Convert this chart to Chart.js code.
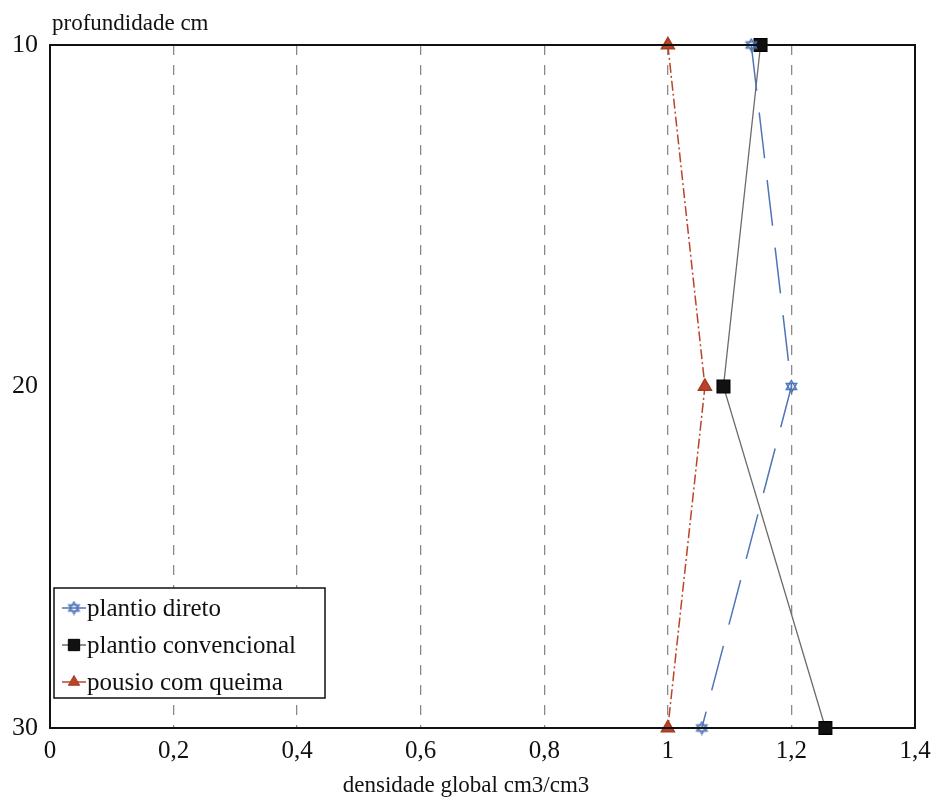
<!DOCTYPE html>
<html>
<head>
<meta charset="utf-8">
<script src="https://cdn.jsdelivr.net/npm/chart.js@4/dist/chart.umd.min.js"></script>
<style>
  html, body { margin: 0; padding: 0; background: #fff; }
  #box { width: 932px; height: 798px; }
</style>
</head>
<body>
<div id="box"><canvas id="perfil"></canvas></div>
<script>
// profundidade (cm) e densidade global
var depths = [10, 20, 30];
var plantioDireto = [1.135, 1.2, 1.055];
var plantioConvencional = [1.15, 1.09, 1.255];
var pousioQueima = [1.0, 1.06, 1.0];
var xTicks = [0, 0.2, 0.4, 0.6, 0.8, 1, 1.2, 1.4];
var yTicks = [10, 20, 30];

var serif = "'Liberation Serif', 'DejaVu Serif', serif";

function pairs(vals) {
  return vals.map(function (v, i) { return { x: v, y: depths[i] }; });
}

// estrela vazada (marcador do plantio direto)
function estrela(size) {
  var cv = document.createElement("canvas");
  cv.width = size; cv.height = size;
  var g = cv.getContext("2d"), r = size / 2 - 1.5, m = size / 2;
  g.strokeStyle = "#4f74b8";
  g.lineWidth = 1.4;
  [0, Math.PI].forEach(function (rot) {
    g.beginPath();
    for (var k = 0; k < 3; k++) {
      var a = rot - Math.PI / 2 + k * 2 * Math.PI / 3;
      var px = m + r * Math.cos(a), py = m + r * Math.sin(a);
      if (k === 0) g.moveTo(px, py); else g.lineTo(px, py);
    }
    g.closePath();
    g.stroke();
  });
  return cv;
}
var starImg = estrela(15);

var dados = {
  datasets: [
    {
      label: "plantio direto",
      data: pairs(plantioDireto),
      borderColor: "#4f74b8",
      borderWidth: 1.5,
      borderDash: [46, 22],
      pointStyle: starImg,
      pointRadius: 7,
      pointBorderColor: "#4f74b8",
      pointBackgroundColor: "#fff"
    },
    {
      label: "plantio convencional",
      data: pairs(plantioConvencional),
      borderColor: "#6b6b6b",
      borderWidth: 1.3,
      pointStyle: "rect",
      pointRadius: 9,
      pointBorderColor: "#000",
      pointBackgroundColor: "#111"
    },
    {
      label: "pousio com queima",
      data: pairs(pousioQueima),
      borderColor: "#b8452a",
      borderWidth: 1.5,
      borderDash: [10, 3, 2, 3],
      pointStyle: "triangle",
      pointRadius: 7.5,
      pointBorderColor: "#a83a22",
      pointBackgroundColor: "#b8452a"
    }
  ]
};

// moldura, titulos e legenda dentro da area
var extras = {
  id: "extras",
  afterDraw: function (chart) {
    var c = chart.ctx, a = chart.chartArea;
    c.save();
    c.strokeStyle = "#111";
    c.lineWidth = 2;
    c.setLineDash([]);
    c.strokeRect(a.left, a.top, a.right - a.left, a.bottom - a.top);

    c.fillStyle = "#111";
    c.font = "23px " + serif;
    c.textBaseline = "alphabetic";
    c.textAlign = "left";
    c.fillText("profundidade cm", a.left + 2, 30);

    c.textAlign = "center";
    c.fillText("densidade global cm3/cm3", 466, 792);

    // legenda
    var lx = 54, ly = 588, lw = 271, lh = 110;
    c.fillStyle = "#fff";
    c.fillRect(lx, ly, lw, lh);
    c.strokeStyle = "#111";
    c.lineWidth = 1.5;
    c.strokeRect(lx, ly, lw, lh);
    c.font = "25px " + serif;
    c.textAlign = "left";
    c.textBaseline = "middle";
    chart.data.datasets.forEach(function (ds, i) {
      var yy = 608 + i * 37;
      c.strokeStyle = ds.borderColor;
      c.lineWidth = 1.5;
      c.beginPath();
      c.moveTo(lx + 8, yy);
      c.lineTo(lx + 32, yy);
      c.stroke();
      c.fillStyle = ds.pointBackgroundColor;
      c.strokeStyle = ds.pointBorderColor;
      c.lineWidth = 1;
      Chart.helpers.drawPoint(c, { pointStyle: ds.pointStyle, radius: ds.pointStyle === "rect" ? 8 : 6.5, borderWidth: 1 }, lx + 20, yy);
      c.fillStyle = "#111";
      c.fillText(ds.label, lx + 33, yy + 1);
    });
    c.restore();
  }
};

window.onload = function () {
  var ctx = document.getElementById("perfil").getContext("2d");
  window.perfil = new Chart(ctx, {
    type: "scatter",
    data: dados,
    plugins: [extras],
    options: {
      responsive: true,
      maintainAspectRatio: false,
      animation: false,
      showLine: true,
      clip: false,
      layout: { padding: { top: 45, right: 17, left: 0, bottom: 0 } },
      plugins: {
        legend: { display: false },
        tooltip: { enabled: false }
      },
      scales: {
        x: {
          type: "linear",
          min: 0,
          max: 1.4,
          afterBuildTicks: function (s) {
            s.ticks = xTicks.map(function (v) { return { value: v }; });
          },
          afterFit: function (s) {
            s.height = 70;
            s.paddingLeft = 0;
            s.paddingRight = 0;
          },
          border: { display: false, dash: [10, 10] },
          grid: {
            color: function (g) {
              var v = g.tick ? g.tick.value : 0;
              return (v > 0.01 && v < 1.39) ? "#8a8a8a" : "rgba(0,0,0,0)";
            },
            lineWidth: 1.3,
            drawTicks: false
          },
          ticks: {
            color: "#111",
            padding: 8,
            font: { family: serif, size: 25 },
            callback: function (v) { return String(Math.round(v * 10) / 10).replace(".", ","); }
          }
        },
        y: {
          type: "linear",
          reverse: true,
          min: 10,
          max: 30,
          afterBuildTicks: function (s) {
            s.ticks = yTicks.map(function (v) { return { value: v }; });
          },
          afterFit: function (s) {
            s.width = 50;
            s.paddingTop = 0;
            s.paddingBottom = 0;
          },
          border: { display: false },
          grid: { display: false, drawTicks: false },
          ticks: {
            color: "#111",
            padding: 12,
            font: { family: serif, size: 26 }
          }
        }
      }
    }
  });
};
</script>
</body>
</html>
